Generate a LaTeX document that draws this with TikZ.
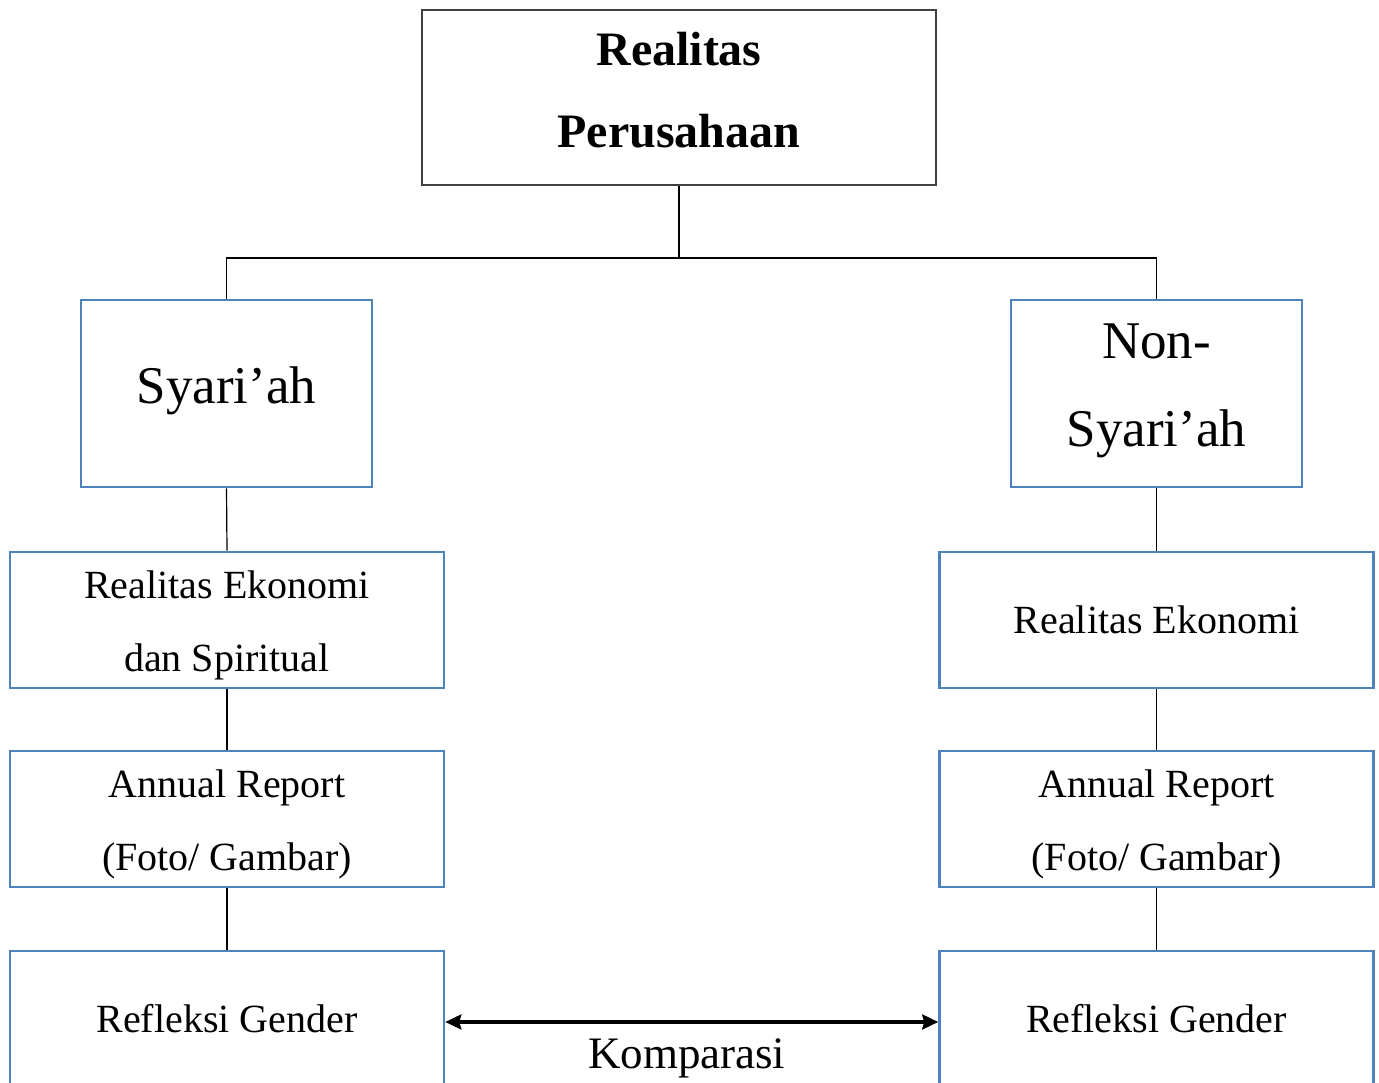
\documentclass[tikz,border=0pt]{standalone}
\usepackage{fontspec}
\setmainfont{Liberation Serif}
\usetikzlibrary{arrows.meta}
\definecolor{boxblue}{HTML}{4F81BD}
\tikzset{
	plainbox/.style={draw=black!75, line width=1.3pt, align=center, inner sep=0pt},
	bluebox/.style={draw=boxblue, line width=2.6pt, align=center, inner sep=0pt},
	kindbox/.style={bluebox, minimum width=291pt, minimum height=187pt, font=\fontsize{53}{88}\selectfont, text depth=17pt},
	widebox/.style={bluebox, minimum width=434pt, minimum height=136pt, font=\fontsize{40}{73}\selectfont},
	twolines/.style={text height=112pt},
	link/.style={line width=1.2pt},
	compare/.style={line width=3.2pt, {Stealth[length=16pt,width=15pt,inset=2pt]}-{Stealth[length=16pt,width=15pt,inset=2pt]}}
}

\begin{document}
\begin{tikzpicture}[x=1pt,y=1pt]
			%%%%% START %%%%%
			\useasboundingbox (0,0) rectangle (1379,1083);
			
			\node[plainbox, minimum width=514pt, minimum height=175pt, text depth=15pt, font=\bfseries\fontsize{48}{82}\selectfont] (realitas) at (679,985.5) {Realitas\\Perusahaan};
			\coordinate (fork) at (679,825);
			
			\node[kindbox] (syariah) at (226.5,689.5) {Syari’ah};
			\node[kindbox] (nonsyariah) at (1156.5,689.5) {Non-\\Syari’ah};
			
			\node[widebox, twolines] (ekoL) at (227,463) {Realitas Ekonomi\\dan Spiritual};
			\node[widebox] (ekoR) at (1156.5,463) {Realitas Ekonomi};
			
			\node[widebox, twolines] (annL) at (227,264) {Annual Report\\(Foto/ Gambar)};
			\node[widebox, twolines] (annR) at (1156.5,264) {Annual Report\\(Foto/ Gambar)};
			
			\node[widebox] (refL) at (227,64) {Refleksi Gender};
			\node[widebox] (refR) at (1156.5,64) {Refleksi Gender};
			
			\draw[link] (realitas.south) -- (fork);
			\draw[link] (syariah.north) |- (fork) -| (nonsyariah.north);
			
			\draw[link] (syariah.south) -- (ekoL.north);
			\draw[link] (ekoL.south) -- (annL.north);
			\draw[link] (annL.south) -- (refL.north);
			
			\draw[link] (nonsyariah.south) -- (ekoR.north);
			\draw[link] (ekoR.south) -- (annR.north);
			\draw[link] (annR.south) -- (refR.north);
			
			\draw[compare] ([yshift=-3pt]refL.east) -- ([yshift=-3pt]refR.west)
				node[midway, below=12pt, xshift=-5pt, font=\fontsize{45}{50}\selectfont] (komparasi) {Komparasi};
			
			%%%%% END %%%%%
\end{tikzpicture}
\end{document}
